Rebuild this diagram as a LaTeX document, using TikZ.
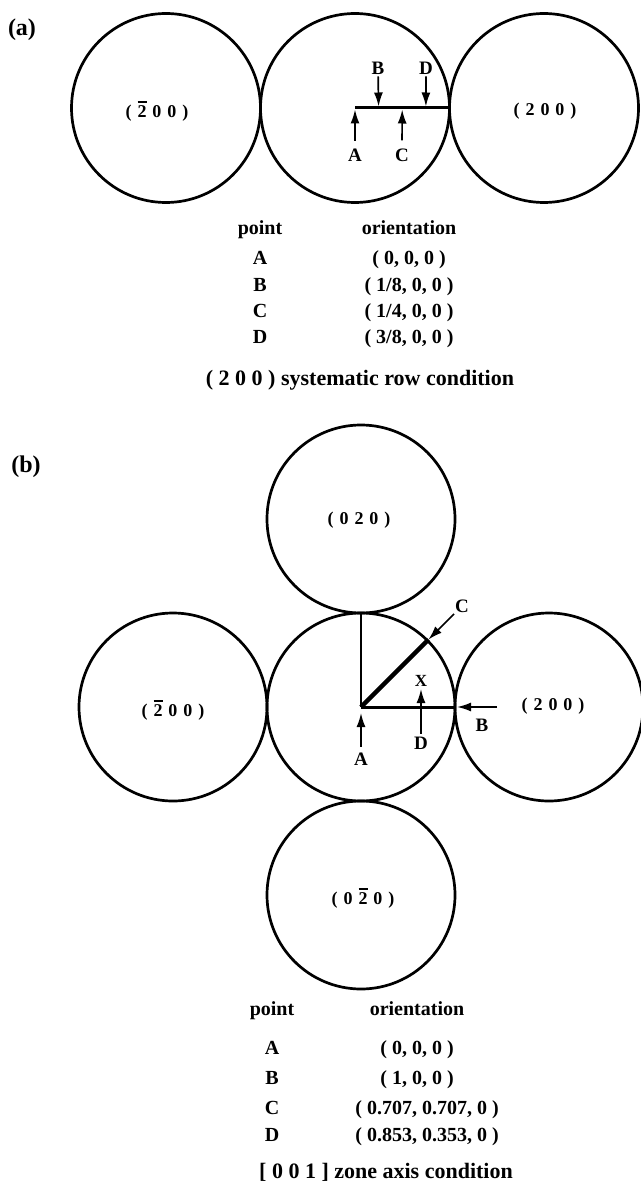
\documentclass[tikz,border=0pt]{standalone}
\usepackage{fontspec}
\setmainfont{Liberation Serif}
\usetikzlibrary{arrows.meta,positioning}
\newcommand{\bartwo}{\rlap{\rule[0.78em]{0.5em}{0.11em}}2}
\newcommand{\gap}{\hspace{0.33em}}

\begin{document}
\begin{tikzpicture}[
  x=1pt,y=-1pt,
  spot/.style={circle,draw,line width=2.7pt,minimum size=189pt,inner sep=0pt},
  hkl/.style={font=\fontsize{18}{20}\selectfont\bfseries},
  txt/.style={font=\fontsize{20}{22}\selectfont\bfseries,inner sep=0pt,anchor=base},
  captxt/.style={txt,font=\fontsize{22}{24}\selectfont\bfseries},
  tag/.style={txt,font=\fontsize{24}{26}\selectfont\bfseries},
  lbl/.style={font=\fontsize{19}{21}\selectfont\bfseries,inner sep=0pt},
  ptr/.style={-{Latex[length=14pt,width=9pt]},line width=1.7pt},
  trace/.style={line width=3pt}
]
  \useasboundingbox (0,0) rectangle (640,1198);

  % (a) systematic row
  \node[tag] (taga) at (22,36) {(a)};
  \node[spot] (ga1) at (166,108) {};
  \node[spot] (ga0) at (355,108) {};
  \node[spot] (ga2) at (544,108) {};
  \node[hkl] at (157,111) {(\gap\bartwo\gap0\gap0\gap)};
  \node[hkl] at (545,111) {(\gap2\gap0\gap0\gap)};

  \coordinate (pa) at (355,109.5);
  \coordinate (pb) at (378.6,106.5);
  \coordinate (pc) at (402.2,109.5);
  \coordinate (pd) at (425.9,106.5);
  \draw[trace] (ga0.center) -- (ga0.east);

  \node[lbl] (la) at (355,155) {A};
  \node[lbl] (lc) at (402,155) {C};
  \node[lbl] (lb) at (378,68) {B};
  \node[lbl] (ld) at (426,68) {D};
  \draw[ptr,shorten <=8pt] (la) -- (pa); \draw[ptr,shorten <=8pt] (lc) -- (pc);
  \draw[ptr,shorten <=2pt] (lb) -- (pb); \draw[ptr,shorten <=2pt] (ld) -- (pd);

  % (a) table
  \node[txt] (pta) at (260,235) {point};
  \node[txt] (ora) at (409,235) {orientation};
  \node[txt] (ra1) at (260,264) {A}; \node[txt] (oa1) at (409,264) {( 0, 0, 0 )};
  \node[txt] (ra2) at (260,291) {B}; \node[txt] (oa2) at (409,291) {( 1/8, 0, 0 )};
  \node[txt] (ra3) at (260,317) {C}; \node[txt] (oa3) at (409,317) {( 1/4, 0, 0 )};
  \node[txt] (ra4) at (260,343) {D}; \node[txt] (oa4) at (409,343) {( 3/8, 0, 0 )};
  \node[captxt] (capa) at (360,385) {( 2 0 0 ) systematic row condition};

  % (b) zone axis
  \node[tag] (tagb) at (26,472) {(b)};
  \node[spot,minimum size=188pt] (gb0) at (361,707) {};
  \node[spot,minimum size=188pt] (gb1) at (173,707) {};
  \node[spot,minimum size=188pt] (gb2) at (549,707) {};
  \node[spot,minimum size=188pt] (gb3) at (361,519) {};
  \node[spot,minimum size=188pt] (gb4) at (361,895) {};
  \node[hkl] at (359,520) {(\gap0\gap2\gap0\gap)};
  \node[hkl] at (173,710) {(\gap\bartwo\gap0\gap0\gap)};
  \node[hkl] at (553,706) {(\gap2\gap0\gap0\gap)};
  \node[hkl] at (363,898) {(\gap0\gap\bartwo\gap0\gap)};

  \draw[line width=2.2pt] (gb0.center) -- (gb0.north);
  \draw[line width=4.5pt] (gb0.center) -- (gb0.north east);
  \draw[trace] (gb0.center) -- (gb0.east);

  \node[lbl] (lc2) at (462,606) {C};
  \draw[ptr,shorten <=2pt] (lc2) -- (gb0.north east);
  \node[font=\fontsize{17}{17}\selectfont\bfseries,inner sep=0pt] (xd) at (421,681) {X};
  \node[lbl] (ld2) at (421,743) {D};
  \coordinate (pd2) at (421,689);
  \draw[ptr,shorten <=3pt] (ld2) -- (pd2);
  \node[lbl] (la2) at (361,759) {A};
  \coordinate (pa2) at (361,713);
  \draw[ptr,shorten <=6pt] (la2) -- (pa2);
  \node[lbl] (lb2) at (482,725) {B};
  \coordinate (qb) at (497,707);
  \coordinate (pb2) at (457,707);
  \draw[ptr] (qb) -- (pb2);

  % (b) table
  \node[txt] (ptb) at (272,1015) {point};
  \node[txt] (orb) at (417,1015) {orientation};
  \node[txt] (rb1) at (272,1054) {A}; \node[txt] (ob1) at (417,1054) {( 0, 0, 0 )};
  \node[txt] (rb2) at (272,1084) {B}; \node[txt] (ob2) at (417,1084) {( 1, 0, 0 )};
  \node[txt] (rb3) at (272,1114) {C}; \node[txt] (ob3) at (427,1114) {( 0.707, 0.707, 0 )};
  \node[txt] (rb4) at (272,1141) {D}; \node[txt] (ob4) at (427,1141) {( 0.853, 0.353, 0 )};
  \node[captxt] (capb) at (386,1178) {[ 0 0 1 ] zone axis condition};
\end{tikzpicture}
\end{document}
